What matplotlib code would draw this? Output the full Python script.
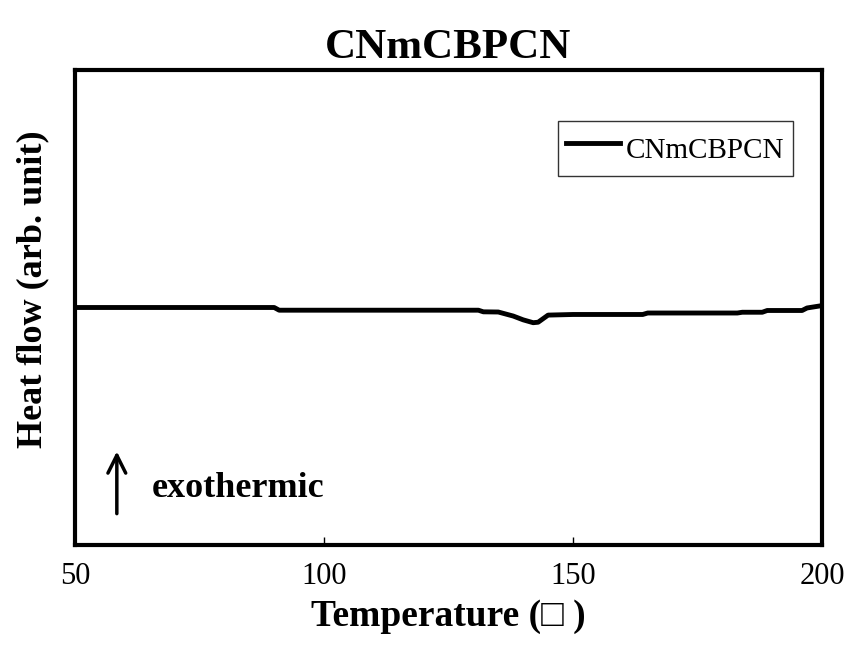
import matplotlib
matplotlib.use('Agg')
import matplotlib.pyplot as plt

plt.rcParams['font.family'] = ['Liberation Serif', 'DejaVu Serif']

# DSC trace (arbitrary units)
temp = [50, 90, 91, 131, 132, 135, 138, 140, 142, 143, 145, 150, 164, 165,
        183, 184, 188, 189, 196, 197, 200]
heat = [0.0, 0.0, -0.057, -0.057, -0.091, -0.095, -0.18, -0.26, -0.32, -0.31,
        -0.16, -0.147, -0.147, -0.116, -0.116, -0.10, -0.10, -0.063, -0.063,
        -0.01, 0.04]
xticks = [50, 100, 150, 200]

fig = plt.figure(figsize=(8.49, 6.51), dpi=100)
ax = fig.add_axes([75/849, 1-545/651, 747/849, 475/651])

ax.plot(temp, heat, color='black', lw=3.5, label='CNmCBPCN')
ax.set_xlim(50, 200)
ax.set_ylim(-5, 5)
ax.set_xticks(xticks)
ax.set_yticks([])
ax.tick_params(axis='x', direction='in', length=6, width=1, labelsize=22, pad=12)
for s in ax.spines.values():
    s.set_linewidth(3)

ax.set_title('CNmCBPCN', fontsize=31, fontweight='bold', pad=9)
ax.set_xlabel('Temperature (\u25a1 )', fontsize=27, fontweight='bold', labelpad=6)
ax.set_ylabel('Heat flow (arb. unit)', fontsize=26, fontweight='bold')
ax.yaxis.set_label_coords(-0.034, 0.539)

leg = ax.legend(loc='upper right', bbox_to_anchor=(0.961, 0.893), fontsize=21,
                frameon=True, fancybox=False, handlelength=1.85, handletextpad=0.2,
                handleheight=1.65, borderpad=0.28, borderaxespad=0)
leg.get_frame().set_edgecolor('black')
leg.get_frame().set_linewidth(1)
leg.get_frame().set_boxstyle('square', pad=0)

ax.annotate('', xy=(0.056, 0.197), xytext=(0.056, 0.066), xycoords='axes fraction',
            arrowprops=dict(arrowstyle='->', lw=2.5, mutation_scale=32,
                            shrinkA=0, shrinkB=0))
ax.text(0.103, 0.101, 'exothermic', transform=ax.transAxes, fontsize=26,
        fontweight='bold', va='baseline', ha='left')

fig.savefig('out.png', dpi=100)
